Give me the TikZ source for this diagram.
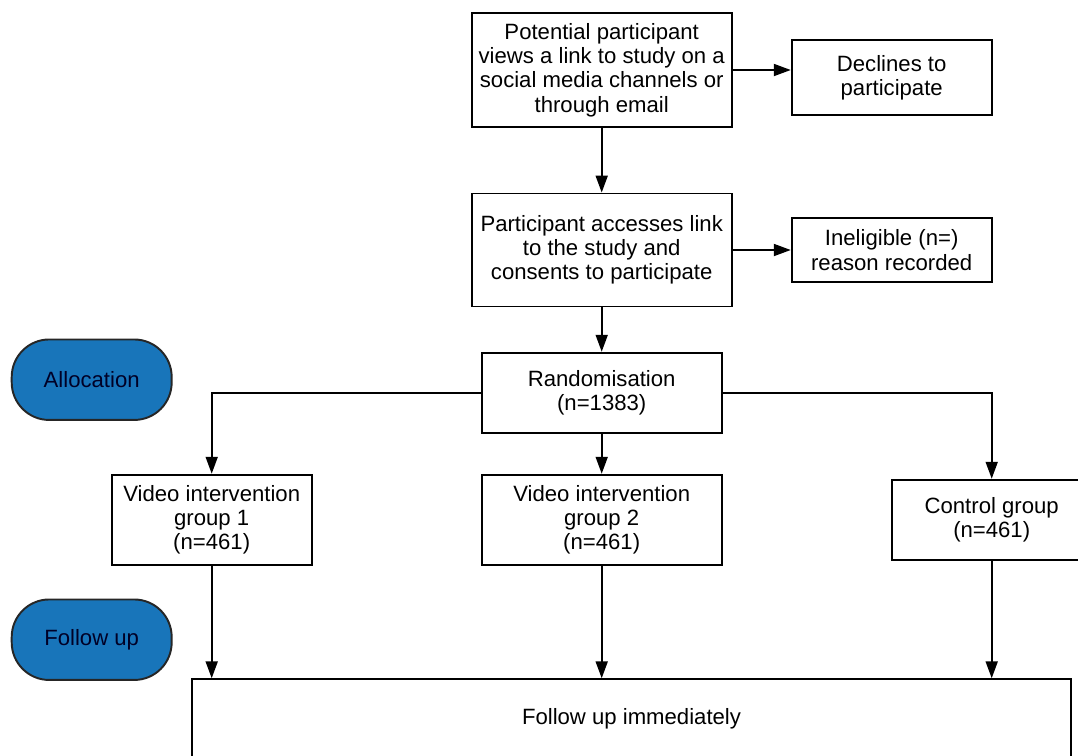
\documentclass[tikz,border=0pt]{standalone}
\usepackage{fontspec}
\setmainfont{Liberation Sans}
\usepackage{tikz}
\usetikzlibrary{arrows.meta}
\definecolor{ovalblue}{RGB}{24,117,186}

\begin{document}
\begin{tikzpicture}[x=0.02cm, y=0.02cm,
        every node/.style={font=\fontsize{12.6}{13.8}\selectfont, align=center, inner sep=0pt, line width=1.1pt},
        box/.style={draw=black, fill=white, rectangle},
        oval/.style={draw=black!85, fill=ovalblue, rectangle, rounded corners=0.75cm, text=black!85!blue, minimum width=3.2cm, minimum height=1.61cm},
        arr/.style={draw=black, line width=1.1pt, -{Triangle[length=0.34cm,width=0.24cm]}}]
        \clip (0,0) rectangle (1078,-755);
        \node [oval] (alloc) at (91.7,-379.7) {Allocation};
        \node [oval] (fol) at (91.7,-639.7) {Follow up};
        \node [box, minimum width=5.2cm, minimum height=2.27cm] (pot) at (601.7,-70) {Potential participant\\views a link to study on a\\social media channels or\\through email};
        \node [box, minimum width=4cm, minimum height=1.5cm] (decl) at (891.7,-77.5) {Declines to\\participate};
        \node [box, minimum width=5.2cm, minimum height=2.26cm] (acc) at (601.7,-250) {Participant accesses link\\to the study and\\consents to participate};
        \node [box, minimum width=4cm, minimum height=1.27cm] (inel) at (891.7,-250) {Ineligible (n=)\\reason recorded};
        \node [box, minimum width=4.8cm, minimum height=1.6cm] (rand) at (601.7,-392.7) {Randomisation\\(n=1383)};
        \node [box, minimum width=4cm, minimum height=1.8cm] (vid1) at (211.7,-519.7) {Video intervention\\group 1\\(n=461)};
        \node [box, minimum width=4.8cm, minimum height=1.8cm] (vid2) at (601.7,-519.7) {Video intervention\\group 2\\(n=461)};
        \node [box, minimum width=4cm, minimum height=1.6cm] (ctrl) at (991.7,-519.7) {Control group\\(n=461)};
        \node [box, minimum width=17.59cm, minimum height=1.59cm] (fup) at (631.5,-719) {Follow up immediately};
        \draw [arr] (pot) -- (acc);
        \draw [arr] (pot.east) -- (pot.east -| decl.west);
        \draw [arr] (acc) -- (rand);
        \draw [arr] (acc.east) -- (acc.east -| inel.west);
        \draw [arr] (rand.west) -| (vid1.north);
        \draw [arr] (rand) -- (vid2);
        \draw [arr] (rand.east) -| (ctrl.north);
        \draw [arr] (vid1.south) -- (vid1.south |- fup.north);
        \draw [arr] (vid2.south) -- (vid2.south |- fup.north);
        \draw [arr] (ctrl.south) -- (ctrl.south |- fup.north);
      \end{tikzpicture}
\end{document}
